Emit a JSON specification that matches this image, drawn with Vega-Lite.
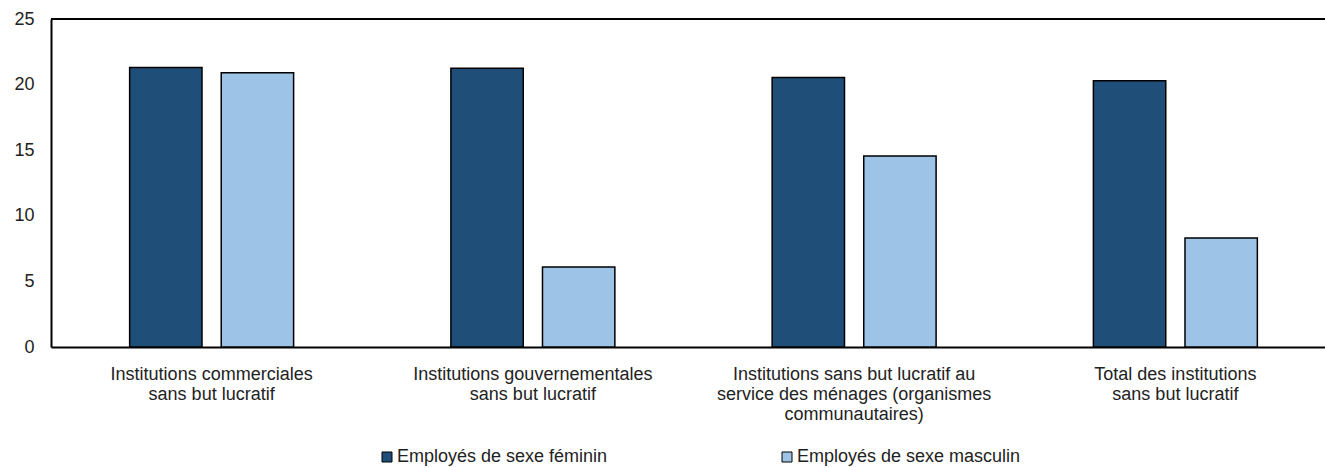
{
  "$schema": "https://vega.github.io/schema/vega-lite/v6.json",
  "autosize": {"type": "none"},
  "padding": {"left": 51, "top": 19, "right": 0, "bottom": 121},
  "width": 1274,
  "height": 328,
  "background": "white",
  "config": {
    "view": {"stroke": null},
    "font": "Liberation Sans",
    "axis": {"labelFont": "Liberation Sans", "labelFontSize": 18, "labelColor": "#222", "grid": false, "ticks": false, "domainColor": "#000", "domainWidth": 2, "title": null},
    "legend": {"labelFont": "Liberation Sans", "labelFontSize": 18, "labelColor": "#222"}
  },
  "data": {
    "values": [
      {"categorie": "Institutions commerciales|sans but lucratif", "sexe": "Employés de sexe féminin", "valeur": 21.3},
      {"categorie": "Institutions commerciales|sans but lucratif", "sexe": "Employés de sexe masculin", "valeur": 20.9},
      {"categorie": "Institutions gouvernementales|sans but lucratif", "sexe": "Employés de sexe féminin", "valeur": 21.25},
      {"categorie": "Institutions gouvernementales|sans but lucratif", "sexe": "Employés de sexe masculin", "valeur": 6.1},
      {"categorie": "Institutions sans but lucratif au|service des ménages (organismes|communautaires)", "sexe": "Employés de sexe féminin", "valeur": 20.55},
      {"categorie": "Institutions sans but lucratif au|service des ménages (organismes|communautaires)", "sexe": "Employés de sexe masculin", "valeur": 14.55},
      {"categorie": "Total des institutions|sans but lucratif", "sexe": "Employés de sexe féminin", "valeur": 20.3},
      {"categorie": "Total des institutions|sans but lucratif", "sexe": "Employés de sexe masculin", "valeur": 8.3}
    ]
  },
  "layer": [
    {
      "mark": {"type": "bar", "stroke": "#000", "strokeWidth": 1.5},
      "encoding": {
        "x": {
          "field": "categorie", "type": "nominal", "sort": null,
          "scale": {"range": [0, 1285], "paddingInner": 0.4896, "paddingOuter": 0.2448},
          "axis": {"labelExpr": "split(datum.label, '|')", "labelAngle": 0, "labelPadding": 18, "labelLineHeight": 20, "labelAlign": "center", "labelBaseline": "top", "labelLimit": 400}
        },
        "xOffset": {"field": "sexe", "type": "nominal", "sort": ["Employés de sexe féminin", "Employés de sexe masculin"], "scale": {"paddingInner": 0.21, "paddingOuter": 0}},
        "y": {
          "field": "valeur", "type": "quantitative",
          "scale": {"domain": [0, 25], "nice": false},
          "axis": {"values": [0, 5, 10, 15, 20, 25], "labelPadding": 17}
        },
        "color": {
          "field": "sexe", "type": "nominal",
          "scale": {"domain": ["Employés de sexe féminin", "Employés de sexe masculin"], "range": ["#1f4e79", "#9dc3e6"]},
          "legend": {"title": null, "orient": "none", "legendX": 327, "legendY": 429, "direction": "horizontal", "symbolType": "square", "symbolSize": 100, "symbolStrokeColor": "#000", "symbolStrokeWidth": 1, "symbolOpacity": 1, "labelOffset": 1, "labelLimit": 400, "columnPadding": 170}
        }
      }
    },
    {
      "mark": {"type": "rule", "color": "#000", "strokeWidth": 2},
      "encoding": {"y": {"datum": 25}}
    }
  ]
}
